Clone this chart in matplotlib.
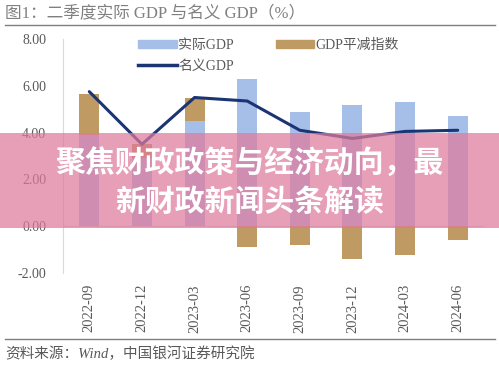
import matplotlib
matplotlib.use("Agg")
import matplotlib.pyplot as plt
from matplotlib.patches import Rectangle
from matplotlib.lines import Line2D

plt.rcParams['font.family'] = ['Liberation Serif', 'Noto Sans CJK SC', 'DejaVu Sans']

# data (%)
quarters = ['2022-09', '2022-12', '2023-03', '2023-06', '2023-09', '2023-12', '2024-03', '2024-06']
real_gdp = [3.9, 2.9, 4.5, 6.3, 4.9, 5.2, 5.3, 4.7]
deflator = [1.75, 0.6, 1.0, -0.9, -0.8, -1.4, -1.25, -0.6]
nominal_gdp = [5.75, 3.5, 5.5, 5.35, 4.1, 3.75, 4.05, 4.1]
y_ticks = [-2, 0, 2, 4, 6, 8]

BLUE = '#a6bfe8'
TAN = '#bf9a62'
NAVY = '#1b3473'
GREY = '#595959'

fig = plt.figure(figsize=(4.99, 3.65), dpi=100)
ax = fig.add_axes([63 / 499, 1 - 273 / 365, 421 / 499, 234 / 365])

x = list(range(len(quarters)))
w = 0.38
ax.bar(x, real_gdp, width=w, color=BLUE, zorder=2)
# deflator stacks on real GDP when positive, hangs below zero when negative
bottoms = [r if d > 0 else 0 for r, d in zip(real_gdp, deflator)]
ax.bar(x, deflator, width=w, bottom=bottoms, color=TAN, zorder=2)
ax.plot(x, nominal_gdp, color=NAVY, lw=2.2, zorder=3, solid_capstyle='round')
ax.axhline(0, color='#d9d9d9', lw=0.8, zorder=1)

ax.set_xlim(-0.5, len(quarters) - 0.5)
ax.set_ylim(-2, 8)
ax.set_yticks(y_ticks)
ax.set_yticklabels([f'{v:.2f}' for v in y_ticks], color=GREY, fontsize=10)
ax.set_xticks(x)
ax.set_xticklabels(quarters, rotation=90, color=GREY, fontsize=10.5)
ax.tick_params(length=0, pad=8)
ax.tick_params(axis='y', pad=12)
for s in ['top', 'right', 'bottom']:
    ax.spines[s].set_visible(False)
ax.spines['left'].set_color('#d9d9d9')

handles = [Rectangle((0, 0), 1, 1, color=BLUE),
           Line2D([0], [0], color=NAVY, lw=2.5),
           Rectangle((0, 0), 1, 1, color=TAN)]
labels = ['实际GDP', '名义GDP', 'GDP平减指数']
ax.legend(handles, labels, ncol=2, loc='upper left', bbox_to_anchor=(0.178, 1.0),
          frameon=False, fontsize=10, handlelength=2.8, handleheight=0.5,
          handletextpad=0.1, columnspacing=3.0, labelspacing=0.55,
          borderpad=0, borderaxespad=0, labelcolor=GREY)

# title, rules and source
fig.text(5 / 499, 1 - 13 / 365, '图1：二季度实际 GDP 与名义 GDP（%）', fontsize=12,
         color='#808080', va='center', ha='left')
fig.add_artist(Line2D([5 / 499, 495 / 499], [1 - 25 / 365] * 2, color='#7f7f7f', lw=1.0))
fig.add_artist(Line2D([5 / 499, 495 / 499], [1 - 339 / 365] * 2, color='#7f7f7f', lw=1.0))
fig.text(5 / 499, 1 - 354 / 365, '资料来源：Wind，中国银河证券研究院', fontsize=10.5,
         color=GREY, va='center', ha='left', style='italic')

# pink overlay banner with headline
fig.add_artist(Rectangle((0, 1 - 228 / 365), 1, 95 / 365, transform=fig.transFigure,
                         facecolor='#de7a9c', alpha=0.72, edgecolor='none', zorder=5))
fig.text(0.5, 1 - 163 / 365, '聚焦财政政策与经济动向，最', fontsize=21.5, color='white',
         weight='bold', ha='center', va='center', zorder=6,
         family=['Noto Sans CJK SC'])
fig.text(0.5, 1 - 202 / 365, '新财政新闻头条解读', fontsize=21.5, color='white',
         weight='bold', ha='center', va='center', zorder=6,
         family=['Noto Sans CJK SC'])

fig.savefig('out.png', dpi=100)
